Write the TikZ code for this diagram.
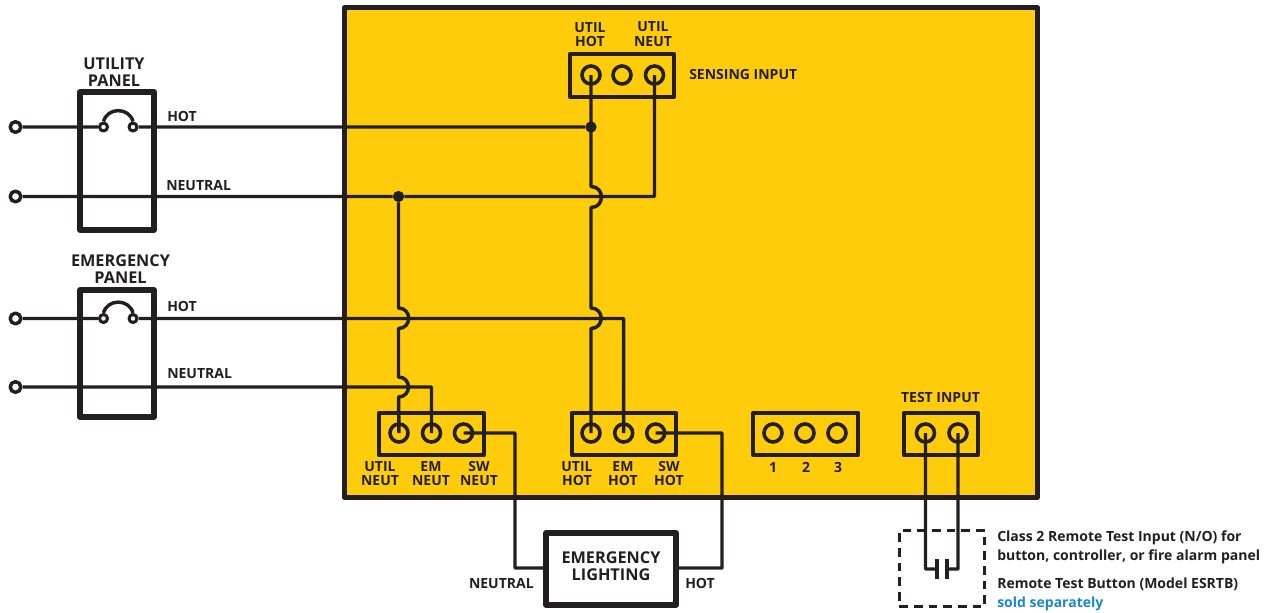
\documentclass[tikz,border=0pt]{standalone}
\usepackage{fontspec}
\setmainfont{Open Sans}
\usetikzlibrary{positioning}
\definecolor{wire}{HTML}{231F20}
\definecolor{panel}{HTML}{FECC0A}
\definecolor{note}{HTML}{1B87C9}
\begin{document}
\begin{tikzpicture}[x=0.75pt, y=-0.75pt, line join=round]
	\tikzstyle{cable}=[draw=wire, line width=2.6pt];
	\tikzstyle{frame}=[draw=wire, line width=3.9pt, rectangle, inner sep=0pt];
	\tikzstyle{strip}=[draw=wire, line width=2.9pt, rectangle, inner sep=0pt];
	\tikzstyle{term}=[circle, draw=wire, line width=2.7pt, inner sep=0pt, minimum size=13.5pt];
	\tikzstyle{lead}=[circle, draw=wire, fill=white, line width=2.6pt, inner sep=0pt, minimum size=8pt];
	\tikzstyle{fuse}=[circle, draw=wire, fill=white, line width=2.3pt, inner sep=0pt, minimum size=6pt];
	\tikzstyle{dot}=[circle, fill=wire, inner sep=0pt, minimum size=8.5pt];
	\tikzstyle{la}=[text=wire, inner sep=0pt, align=center, font=\fontsize{10.5}{10.9}\selectfont\bfseries];
	\tikzstyle{big}=[la, font=\fontsize{12.2}{12.6}\selectfont\bfseries];
	\useasboundingbox (0,0) rectangle (1272,612);
	% main enclosure
	\node[frame, line width=4pt, fill=panel, minimum width=519.5pt, minimum height=367.5pt] (main) at (691,252.7) {};
	% outside boxes
	\node[frame, minimum width=55.5pt, minimum height=103.5pt] (upanel) at (117,161) {};
	\node[frame, minimum width=55.5pt, minimum height=95.25pt] (epanel) at (117,353.5) {};
	\node[frame, fill=white, minimum width=97.5pt, minimum height=54pt] (light) at (611,569) {};
	\node[la, big] (ulabel) at (114,72) {UTILITY\\PANEL};
	\node[la, big] (elabel) at (120.5,269) {EMERGENCY\\PANEL};
	\node[la, big] (llabel) at (611,566) {EMERGENCY\\LIGHTING};
	% terminal strips
	\node[strip, minimum width=78.5pt, minimum height=32pt] (sbox) at (622,75.5) {};
	\node[strip, minimum width=78.5pt, minimum height=32pt] (nbox) at (431.3,434) {};
	\node[strip, minimum width=78.5pt, minimum height=32pt] (hbox) at (624,434) {};
	\node[strip, minimum width=78.5pt, minimum height=32pt] (xbox) at (805.5,434) {};
	\node[strip, minimum width=55pt, minimum height=32pt] (tbox) at (941,434) {};
	\foreach \i/\x in {1/591,2/622,3/654.5}
	{\node[term] (s\i) at (\x,75) {};}
	\foreach \i/\x in {1/399,2/431.5,3/463.5}
	{\node[term] (n\i) at (\x,433) {};}
	\foreach \i/\x in {1/591,2/623.7,3/655.7}
	{\node[term] (h\i) at (\x,433) {};}
	\foreach \i/\x in {1/773,2/805,3/837}
	{\node[term] (x\i) at (\x,433) {};}
	\foreach \i/\x in {1/925.5,2/958}
	{\node[term] (t\i) at (\x,433) {};}
	% incoming leads and fuses
	\foreach \i/\y in {1/127,2/196.5,3/318.5,4/387}
	{\node[lead] (in\i) at (15.5,\y) {};}
	\node[fuse] (f1) at (103.5,127) {};
	\node[fuse] (f2) at (133,127) {};
	\node[fuse] (f3) at (103.5,318.5) {};
	\node[fuse] (f4) at (133,318.5) {};
	\node[dot] (jhot) at (591,127) {};
	\node[dot] (jneut) at (398.5,196.5) {};
	\coordinate (c1) at (654.5,196.5);
	\coordinate (c2) at (623.7,318.5);
	\coordinate (c3) at (431.5,387);
	\coordinate (a1) at (591,186.5);
	\coordinate (a2) at (591,207.5);
	\coordinate (a3) at (591,308);
	\coordinate (a4) at (591,328.5);
	\coordinate (b1) at (398.5,308);
	\coordinate (b2) at (398.5,328.5);
	\coordinate (b3) at (398.5,377);
	\coordinate (b4) at (398.5,397);
	\coordinate (d1) at (515,433);
	\coordinate (d2) at (515,568);
	\coordinate (e1) at (722,433);
	\coordinate (e2) at (722,568);
	\coordinate (g1) at (925.5,569);
	\coordinate (g2) at (937,569);
	\coordinate (g3) at (947,569);
	\coordinate (g4) at (958,569);
	% wiring
	\draw[cable]
	(in1) -- (f1)
	(f1.north) to[out=75, in=105, looseness=1.3] (f2.north)
	(f2) -- (jhot)
	(in3) -- (f3)
	(f3.north) to[out=75, in=105, looseness=1.3] (f4.north)
	(f4) -- (c2) -- (h2.center)
	(in2) -- (jneut) -- (c1) -- (s3.center)
	(in4) -- (c3) -- (n2.center)
	(s1.center) -- (a1) to[out=0, in=0, looseness=1.7] (a2) -- (a3) to[out=0, in=0, looseness=1.7] (a4) -- (h1.center)
	(jneut) -- (b1) to[out=0, in=0, looseness=1.7] (b2) -- (b3) to[out=0, in=0, looseness=1.7] (b4) -- (n1.center)
	(n3.center) -- (d1) -- (d2) -- (light.west |- d2)
	(h3.center) -- (e1) -- (e2) -- (light.east |- e2)
	(t1.center) -- (g1) -- (g2)
	(t2.center) -- (g4) -- (g3)
	;
	% remote button
	\draw[cable] (g2) ++(0,-10) coordinate (p1) -- (g2) -- ++(0,10) coordinate (p2);
	\draw[cable] (g3) ++(0,-10) coordinate (p3) -- (g3) -- ++(0,10) coordinate (p4);
	\node[draw=wire, line width=2.3pt, dash pattern=on 6.5pt off 4.5pt, minimum width=64pt, minimum height=57pt, inner sep=0pt] (rbox) at (942,568.7) {};
	% labels
	\node[la, anchor=west] (l1) at (167,116) {HOT};
	\node[la, anchor=west] (l2) at (166,185.5) {NEUTRAL};
	\node[la, anchor=west] (l3) at (167,306) {HOT};
	\node[la, anchor=west] (l4) at (167,373.5) {NEUTRAL};
	\node[la, anchor=east] (l5) at (534,583.5) {NEUTRAL};
	\node[la, anchor=west] (l6) at (685,583.5) {HOT};
	\node[la] (l7) at (590,34.5) {UTIL\\HOT};
	\node[la] (l8) at (653,34) {UTIL\\NEUT};
	\node[la, anchor=west] (l9) at (689,74.5) {SENSING INPUT};
	\node[la] (l10) at (380,473.5) {UTIL\\NEUT};
	\node[la] (l11) at (431,473.5) {EM\\NEUT};
	\node[la] (l12) at (479,473.5) {SW\\NEUT};
	\node[la] (l13) at (577,473.5) {UTIL\\HOT};
	\node[la] (l14) at (623,473.5) {EM\\HOT};
	\node[la] (l15) at (669,473.5) {SW\\HOT};
	\foreach \i/\x in {1/773,2/806,3/838}
	{\node[la] (k\i) at (\x,467.5) {\i};}
	\node[la] (l16) at (940.5,397.5) {TEST INPUT};
	\node[la, anchor=west] (r1) at (997,537.5) {Class 2 Remote Test Input (N/O) for};
	\node[la, anchor=west] (r2) at (997,556.5) {button, controller, or fire alarm panel};
	\node[la, anchor=west] (r3) at (997,584.5) {Remote Test Button (Model ESRTB)};
	\node[la, anchor=west, text=note] (r4) at (997,603.5) {sold separately};
\end{tikzpicture}
\end{document}
